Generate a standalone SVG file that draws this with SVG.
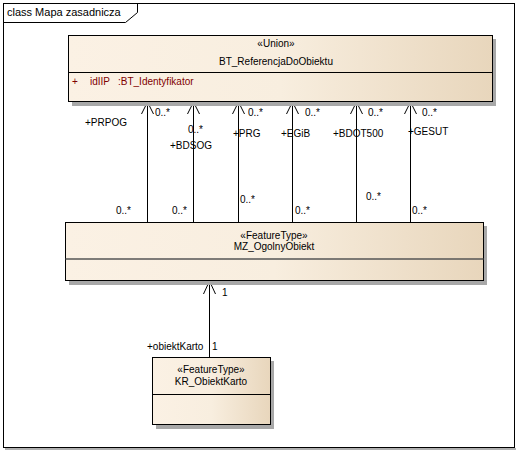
<svg xmlns="http://www.w3.org/2000/svg" width="519" height="453" viewBox="0 0 519 453">
<defs>
<linearGradient id="g" x1="0" y1="0" x2="1" y2="0">
<stop offset="0" stop-color="#FBF1E4"/>
<stop offset="0.5" stop-color="#F8EEDF"/>
<stop offset="1" stop-color="#E8D6BC"/>
</linearGradient>
</defs>
<style>
text{font-family:"Liberation Sans",Arial,sans-serif;font-size:10px;fill:#000}
.c{text-anchor:middle}
.attr{fill:#800000}
.box{fill:url(#g);stroke:#000;stroke-width:1}
.sh{fill:#a8a8a8}
.ln{stroke:#000;stroke-width:1;fill:none}
.title{font-size:11px}
</style>
<rect width="519" height="453" fill="#fff"/>
<g id="frame">
<rect x="5" y="448" width="511" height="2" fill="#b0b0b0"/>
<rect x="3.5" y="3.5" width="511" height="444" fill="none" stroke="#000"/>
<path class="ln" d="M3.5 22.5 H125.5 L137.5 12.5 V3.5"/>
<text class="title" x="7" y="16">class Mapa zasadnicza</text>
</g>
<g id="connectors">
<g class="ln">
<path d="M147.5 222 V102 M141.5 114 L147.5 102 L153.5 114"/>
<path d="M193.5 222 V102 M187.5 114 L193.5 102 L199.5 114"/>
<path d="M238.5 222 V102 M232.5 114 L238.5 102 L244.5 114"/>
<path d="M292.5 222 V102 M286.5 114 L292.5 102 L298.5 114"/>
<path d="M356.5 222 V102 M350.5 114 L356.5 102 L362.5 114"/>
<path d="M410.5 222 V102 M404.5 114 L410.5 102 L416.5 114"/>
<path d="M209.5 357 V281 M203.5 294 L209.5 281 L215.5 294"/>
</g>
<text x="85" y="126">+PRPOG</text>
<text x="155" y="116">0..*</text>
<text x="116" y="214">0..*</text>
<text x="188" y="133">0..*</text>
<text x="170" y="149">+BDSOG</text>
<text x="172" y="214">0..*</text>
<text x="248" y="116">0..*</text>
<text x="233" y="137">+PRG</text>
<text x="240" y="203">0..*</text>
<text x="305" y="116">0..*</text>
<text x="281" y="137">+EGiB</text>
<text x="295" y="214">0..*</text>
<text x="368" y="116">0..*</text>
<text x="333" y="137">+BDOT500</text>
<text x="366" y="200">0..*</text>
<text x="422" y="116">0..*</text>
<text x="408" y="135">+GESUT</text>
<text x="412" y="214">0..*</text>
<text x="222" y="296">1</text>
<text x="147" y="350">+obiektKarto</text>
<text x="212" y="350">1</text>
</g>
<g id="BT_ReferencjaDoObiektu">
<rect class="sh" x="72" y="39" width="424" height="67"/>
<rect class="box" x="68.5" y="35.5" width="424" height="66"/>
<line class="ln" x1="68.5" y1="72.5" x2="492.5" y2="72.5"/>
<text class="c" x="276" y="47">«Union»</text>
<text class="c" x="276" y="65">BT_ReferencjaDoObiektu</text>
<text class="attr" x="72" y="85">+</text>
<text class="attr" x="90" y="85">idIIP</text>
<text class="attr" x="118" y="85">:BT_Identyfikator</text>
</g>
<g id="MZ_OgolnyObiekt">
<rect class="sh" x="69" y="226" width="418" height="59"/>
<rect class="box" x="65.5" y="222.5" width="418" height="58"/>
<line x1="65.5" y1="259" x2="483.5" y2="259" stroke="#555" stroke-width="1.5"/>
<text class="c" x="274" y="238.5">«FeatureType»</text>
<text class="c" x="274" y="250">MZ_OgolnyObiekt</text>
</g>
<g id="KR_ObiektKarto">
<rect class="sh" x="156" y="361" width="118" height="68"/>
<rect class="box" x="152.5" y="357.5" width="118" height="67"/>
<line class="ln" x1="152.5" y1="394.5" x2="270.5" y2="394.5"/>
<text class="c" x="211" y="373">«FeatureType»</text>
<text class="c" x="211" y="385">KR_ObiektKarto</text>
</g>
</svg>
